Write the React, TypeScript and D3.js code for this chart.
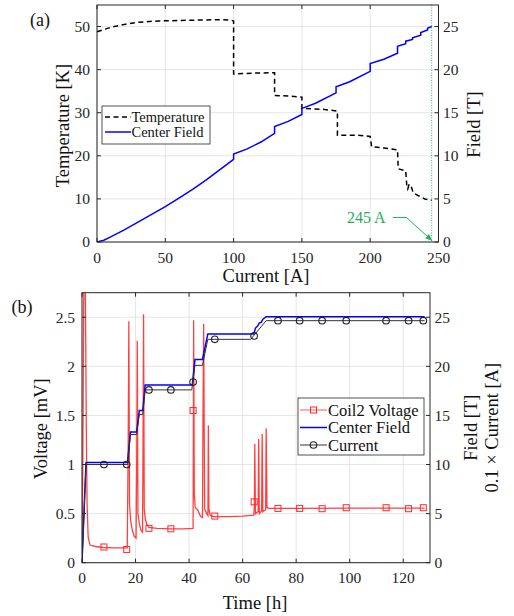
import React from 'react';
import * as d3 from 'd3';

// ---------- Panel (a) data ----------
const tempCurrent = [0, 10, 20, 30, 45, 60, 75, 90, 98, 100, 100, 115, 130, 130, 140, 150, 150, 165, 176, 176, 190, 200, 201, 210, 220, 220.5, 226, 226.8, 227.5, 228.5, 230, 231.5, 235, 240, 245];
const tempK = [48.8, 49.8, 50.5, 51.0, 51.3, 51.4, 51.5, 51.6, 51.5, 51.3, 39.0, 39.2, 39.3, 34.0, 33.9, 33.6, 31.0, 30.8, 30.4, 24.8, 24.8, 24.5, 22.1, 21.8, 21.4, 17.0, 16.5, 13.0, 12.3, 13.4, 12.9, 11.4, 10.8, 10.0, 9.7];
const fieldCurrent = [0, 5, 10, 20, 30, 40, 50, 60, 70, 80, 90, 100, 100, 110, 120, 130, 130, 140, 150, 150, 160, 175, 175, 185, 200, 200, 210, 220, 220, 226, 226, 231, 231, 237, 237, 242, 242, 245];
const fieldTesla = [0, 0.2, 0.6, 1.4, 2.3, 3.2, 4.1, 5.1, 6.1, 7.2, 8.4, 9.6, 10.2, 10.8, 11.6, 12.6, 13.4, 14.0, 14.8, 15.5, 16.1, 17.3, 18.0, 18.6, 19.8, 20.7, 21.2, 21.9, 22.7, 23.0, 23.3, 23.5, 23.7, 24.0, 24.3, 24.6, 24.8, 25.0];
const aXTicks = [0, 50, 100, 150, 200, 250];
const aTempTicks = [0, 10, 20, 30, 40, 50];
const aFieldTicks = [0, 5, 10, 15, 20, 25];
const annotCurrent = 245;
const annotLabel = '245 A';
// leader of the annotation: [current, field] vertices
const annotLeader: [number, number][] = [[216.5, 2.85], [226.5, 2.85], [245, 0.2]];

// ---------- Panel (b) data ----------
const fieldTime = [0, 1.5, 17.0, 18.1, 20.4, 21.4, 22.7, 23.6, 41.2, 42.2, 45.0, 47.0, 64.2, 64.8, 65.6, 66.2, 67.0, 67.6, 68.8, 128];
const fieldB = [0, 10.2, 10.2, 13.3, 13.3, 15.5, 15.5, 18.1, 18.1, 20.7, 20.7, 23.3, 23.3, 23.9, 24.1, 24.4, 24.5, 24.8, 25.05, 25.05];
const currentTime = [0, 1.5, 17.0, 18.1, 20.4, 21.4, 22.7, 23.6, 41.0, 42.2, 45.0, 47.0, 63.0, 68.8, 128];
const currentTenth = [0, 10.0, 10.0, 13.05, 13.05, 15.1, 15.1, 17.6, 17.6, 20.1, 20.1, 22.75, 22.75, 24.65, 24.65];
const coil2Voltage: [number, number][] = [
  [0, 0], [0.3, 1.0], [0.7, 2.9], [1.0, 3.2], [1.3, 2.6], [1.6, 1.4], [1.9, 0.6], [2.3, 0.26], [3, 0.18], [5, 0.165],
  [8, 0.155], [12, 0.15], [16.9, 0.15], [17.25, 1.2], [17.5, 2.46], [17.75, 0.6], [18.2, 0.42], [18.8, 0.33], [19.5, 0.27], [20.2, 0.25],
  [20.45, 1.1], [20.65, 2.26], [20.9, 0.5], [21.4, 0.4], [22.0, 0.33], [22.6, 0.31], [22.8, 1.2], [23.0, 2.53], [23.25, 0.55], [23.6, 0.45],
  [24.2, 0.39], [25.0, 0.36], [28, 0.35], [33, 0.345], [38, 0.345], [41.5, 0.35], [41.7, 2.47], [41.95, 0.7], [42.3, 0.56], [43.2, 0.54],
  [44.3, 0.47], [45.0, 0.46], [45.2, 1.5], [45.45, 2.43], [45.8, 0.55], [46.6, 0.5], [47.05, 0.48], [47.2, 1.40], [47.4, 0.55], [47.9, 0.48],
  [49, 0.47], [55, 0.47], [60, 0.475], [64.2, 0.485], [64.4, 0.6], [64.55, 1.21], [64.8, 0.5], [65.8, 0.52], [66.0, 1.26], [66.25, 0.5],
  [67.1, 0.53], [67.3, 1.31], [67.55, 0.52], [68.6, 0.54], [68.8, 1.37], [69.1, 0.56], [69.8, 0.553], [80, 0.553], [100, 0.556], [128, 0.555],
];
const markerTime = [8.2, 16.7, 25.0, 33.2, 41.5, 49.6, 64.3, 73.2, 81.3, 89.7, 98.7, 113.6, 122.0, 127.5];
const markerVoltage = [0.16, 0.135, 0.35, 0.345, 1.55, 0.475, 0.62, 0.553, 0.553, 0.55, 0.56, 0.56, 0.55, 0.56];
const markerCurrent = [10.0, 10.0, 17.6, 17.6, 18.4, 22.75, 23.1, 24.65, 24.65, 24.65, 24.65, 24.65, 24.65, 24.65];
const bXTicks = [0, 20, 40, 60, 80, 100, 120];
const bVoltTicks = [0, 0.5, 1, 1.5, 2, 2.5];
const bFieldTicks = [0, 5, 10, 15, 20, 25];

const FONT = "'Liberation Serif', 'Times New Roman', serif";
const AX = '#262626';
const GRID = '#dedede';
const GREEN = '#1fae5a';

const A = { left: 97, right: 438.5, top: 5, bottom: 242 };
const B = { left: 82, right: 430, top: 292.7, bottom: 562.7 };

function Grid({ box, x, yl, xTicks, ylTicks }: any) {
  return (
    <g>
      {xTicks.map((t: number) => (
        <line key={'gx' + t} x1={x(t)} x2={x(t)} y1={box.top} y2={box.bottom} stroke={GRID} strokeWidth={0.8} />
      ))}
      {ylTicks.map((t: number) => (
        <line key={'gy' + t} x1={box.left} x2={box.right} y1={yl(t)} y2={yl(t)} stroke={GRID} strokeWidth={0.8} />
      ))}
    </g>
  );
}

function Axes({ box, x, yl, yr, xTicks, ylTicks, yrTicks }: any) {
  const tl = 4;
  return (
    <g fontFamily={FONT} fill={AX}>
      <rect x={box.left} y={box.top} width={box.right - box.left} height={box.bottom - box.top} fill="none" stroke={AX} strokeWidth={1} />
      {xTicks.map((t: number) => (
        <g key={'tx' + t}>
          <line x1={x(t)} x2={x(t)} y1={box.bottom} y2={box.bottom - tl} stroke={AX} />
          <line x1={x(t)} x2={x(t)} y1={box.top} y2={box.top + tl} stroke={AX} />
          <text x={x(t)} y={box.bottom + 20.5} textAnchor="middle" fontSize={15.5}>{t}</text>
        </g>
      ))}
      {ylTicks.map((t: number) => (
        <g key={'tl' + t}>
          <line x1={box.left} x2={box.left + tl} y1={yl(t)} y2={yl(t)} stroke={AX} />
          <text x={box.left - 7} y={yl(t) + 5.3} textAnchor="end" fontSize={15.5}>{String(t)}</text>
        </g>
      ))}
      {yrTicks.map((t: number) => (
        <g key={'tr' + t}>
          <line x1={box.right} x2={box.right - tl} y1={yr(t)} y2={yr(t)} stroke={AX} />
          <text x={box.right + 4.5} y={yr(t) + 5.3} textAnchor="start" fontSize={15.5}>{t}</text>
        </g>
      ))}
    </g>
  );
}

export default function App() {
  const xA = d3.scaleLinear().domain([0, 250]).range([A.left, A.right]);
  const yAT = d3.scaleLinear().domain([0, 55]).range([A.bottom, A.top]);
  const yAF = d3.scaleLinear().domain([0, 27.5]).range([A.bottom, A.top]);

  const xB = d3.scaleLinear().domain([0, 130]).range([B.left, B.right]);
  const yBV = d3.scaleLinear().domain([0, 2.75]).range([B.bottom, B.top]);
  const yBF = d3.scaleLinear().domain([0, 27.5]).range([B.bottom, B.top]);

  const tempLine = d3.line<number>().x((_, i) => xA(tempCurrent[i])).y((d) => yAT(d))(tempK) || '';
  const fieldLineA = d3.line<number>().x((_, i) => xA(fieldCurrent[i])).y((d) => yAF(d))(fieldTesla) || '';
  const leaderLine = d3.line<[number, number]>().x((d) => xA(d[0])).y((d) => yAF(d[1]))(annotLeader) || '';

  const fieldLineB = d3.line<number>().x((_, i) => xB(fieldTime[i])).y((d) => yBF(d))(fieldB) || '';
  const currentLine = d3.line<number>().x((_, i) => xB(currentTime[i])).y((d) => yBF(d))(currentTenth) || '';
  const voltLine = d3.line<[number, number]>().x((d) => xB(d[0])).y((d) => yBV(d[1]))(coil2Voltage) || '';

  const ax = xA(annotCurrent);

  return (
    <svg width={514} height={616} style={{ position: 'absolute', left: 0, top: 0, background: '#fff' }} fontFamily={FONT}>
      <defs>
        <clipPath id="clipA"><rect x={A.left} y={A.top} width={A.right - A.left} height={A.bottom - A.top} /></clipPath>
        <clipPath id="clipB"><rect x={B.left} y={B.top} width={B.right - B.left} height={B.bottom - B.top} /></clipPath>
        <marker id="garrow" viewBox="0 0 10 10" refX="9" refY="5" markerWidth="7" markerHeight="7" orient="auto">
          <path d="M0,1 L10,5 L0,9 z" fill={GREEN} />
        </marker>
      </defs>
      <rect x={0} y={0} width={514} height={616} fill="#fff" />

      {/* ---------- Panel (a) ---------- */}
      <Grid box={A} x={xA} yl={yAT} xTicks={aXTicks} ylTicks={aTempTicks} />
      <g clipPath="url(#clipA)">
        <line x1={ax} x2={ax} y1={A.top} y2={A.bottom} stroke={GREEN} strokeWidth={0.9} strokeDasharray="1,1.5" />
        <path d={tempLine} fill="none" stroke="#000" strokeWidth={1.5} strokeDasharray="5,3.5" />
        <path d={fieldLineA} fill="none" stroke="#0000ff" strokeWidth={1.5} />
      </g>
      <Axes box={A} x={xA} yl={yAT} yr={yAF} xTicks={aXTicks} ylTicks={aTempTicks} yrTicks={aFieldTicks} />
      <text x={30} y={26} fontSize={18} fill="#111">(a)</text>
      <text x={266} y={282} textAnchor="middle" fontSize={18.5} fill="#111">Current [A]</text>
      <text transform={`translate(69,${(A.top + A.bottom) / 2 + 2}) rotate(-90)`} textAnchor="middle" fontSize={18.5} fill="#111">Temperature [K]</text>
      <text transform={`translate(480,${(A.top + A.bottom) / 2 + 1}) rotate(-90)`} textAnchor="middle" fontSize={18.5} fill="#111">Field [T]</text>

      {/* annotation */}
      <text x={347} y={222.5} fontSize={16} fill={GREEN}>{annotLabel}</text>
      <path d={leaderLine} fill="none" stroke={GREEN} strokeWidth={1} markerEnd="url(#garrow)" />

      {/* legend (a) */}
      <g>
        <rect x={102} y={106} width={108} height={38} fill="#fff" stroke={AX} strokeWidth={0.8} />
        <line x1={105} x2={131} y1={117} y2={117} stroke="#000" strokeWidth={1.5} strokeDasharray="5,3.5" />
        <text x={131.5} y={122} fontSize={14.5} fill="#111">Temperature</text>
        <line x1={105} x2={131} y1={132} y2={132} stroke="#0000ff" strokeWidth={1.5} />
        <text x={131.5} y={137} fontSize={14.5} fill="#111">Center Field</text>
      </g>

      {/* ---------- Panel (b) ---------- */}
      <Grid box={B} x={xB} yl={yBV} xTicks={bXTicks} ylTicks={bVoltTicks} />
      <g clipPath="url(#clipB)">
        <path d={voltLine} fill="none" stroke="#ff0000" strokeOpacity={0.75} strokeWidth={1.3} />
        {markerTime.map((t, i) => (
          <rect key={'sq' + i} x={xB(t) - 3} y={yBV(markerVoltage[i]) - 3} width={6} height={6} fill="none" stroke="#ff2a2a" strokeWidth={1} />
        ))}
        <path d={fieldLineB} fill="none" stroke="#0000ff" strokeWidth={1.5} />
        <path d={currentLine} fill="none" stroke="#333" strokeWidth={1} />
        {markerTime.map((t, i) => (
          <circle key={'c' + i} cx={xB(t)} cy={yBF(markerCurrent[i])} r={3.3} fill="none" stroke="#222" strokeWidth={1.1} />
        ))}
      </g>
      <Axes box={B} x={xB} yl={yBV} yr={yBF} xTicks={bXTicks} ylTicks={bVoltTicks} yrTicks={bFieldTicks} />
      <text x={11.5} y={313} fontSize={18} fill="#111">(b)</text>
      <text x={255} y={609} textAnchor="middle" fontSize={18.5} fill="#111">Time [h]</text>
      <text transform={`translate(47,${(B.top + B.bottom) / 2 + 1}) rotate(-90)`} textAnchor="middle" fontSize={18.5} fill="#111">Voltage [mV]</text>
      <text transform={`translate(477,${(B.top + B.bottom) / 2}) rotate(-90)`} textAnchor="middle" fontSize={18.5} fill="#111">Field [T]</text>
      <text transform={`translate(498,${(B.top + B.bottom) / 2}) rotate(-90)`} textAnchor="middle" fontSize={18.5} fill="#111">0.1 × Current [A]</text>

      {/* legend (b) */}
      <g>
        <rect x={298} y={398} width={126} height={57} fill="#fff" stroke={AX} strokeWidth={0.8} />
        <line x1={300} x2={327} y1={410} y2={410} stroke="#ff0000" strokeOpacity={0.5} strokeWidth={1.3} />
        <rect x={310.5} y={407} width={6} height={6} fill="none" stroke="#ff2a2a" strokeWidth={1} />
        <text x={328} y={415.5} fontSize={16.5} fill="#111">Coil2 Voltage</text>
        <line x1={300} x2={327} y1={427.5} y2={427.5} stroke="#0000ff" strokeWidth={1.5} />
        <text x={328} y={433} fontSize={16.5} fill="#111">Center Field</text>
        <line x1={300} x2={327} y1={445} y2={445} stroke="#333" strokeWidth={1} />
        <circle cx={313.5} cy={445} r={3.3} fill="none" stroke="#222" strokeWidth={1.1} />
        <text x={328} y={450.5} fontSize={16.5} fill="#111">Current</text>
      </g>
    </svg>
  );
}
